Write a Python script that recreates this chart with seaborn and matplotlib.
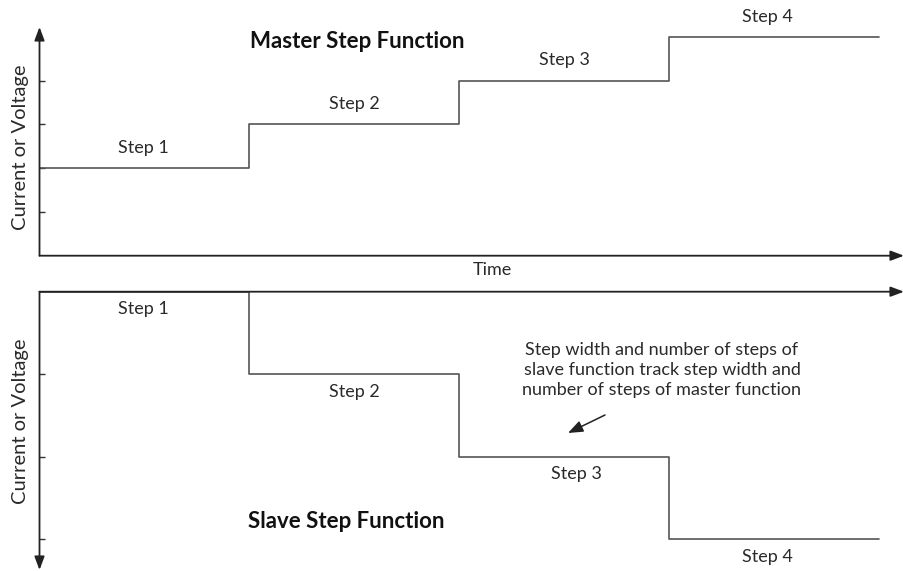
import matplotlib
matplotlib.use('Agg')
import matplotlib.pyplot as plt
from matplotlib.patches import FancyArrowPatch
import seaborn as sns

sns.set_style('white')
plt.rcParams['font.family'] = ['Lato', 'DejaVu Sans']

# Dados das funções degrau
step_edges = [0, 1, 2, 3, 4]
master_levels = [2, 3, 4, 5]
slave_levels = [0, -1, -2, -3]
step_labels = ['Step 1', 'Step 2', 'Step 3', 'Step 4']
master_ticks = [1, 2, 3, 4]
slave_ticks = [-1, -2, -3]

W, H = 904, 571
fig = plt.figure(figsize=(W / 100, H / 100), dpi=100)

line_c = '#555555'
axis_c = '#333333'
text_c = '#2a2a2a'

# eixo superior (mestre) e inferior (escravo), em pixels da figura
ax_top = fig.add_axes([39.5 / W, (H - 255.7) / H, (W - 39.5) / W, (255.7 - 27) / H])
ax_bot = fig.add_axes([39.5 / W, (H - 570) / H, (W - 39.5) / W, (570 - 291.7) / H])

ax_top.set_xlim(0, (W - 39.5) / 209.9)
ax_top.set_ylim(0, (255.7 - 27) / 43.8)
ax_bot.set_xlim(0, (W - 39.5) / 209.9)
ax_bot.set_ylim(-(570 - 291.7) / 82.5, 0)

for ax, levels, ticks in [(ax_top, master_levels, master_ticks), (ax_bot, slave_levels, slave_ticks)]:
    ax.patch.set_alpha(0)
    for s in ax.spines.values():
        s.set_visible(False)
    sns.lineplot(x=step_edges, y=levels + [levels[-1]], drawstyle='steps-post',
                 color=line_c, lw=1.2, ax=ax, estimator=None)
    ax.set_xticks([])
    ax.set_yticks(ticks)
    ax.tick_params(axis='y', direction='in', length=4, width=1, color=axis_c,
                   labelleft=False, left=True)
    ax.set_xlabel('')
    ax.set_ylabel('')

arrow = dict(arrowstyle='-|>,head_length=0.8,head_width=0.3', color='#222222',
             lw=1.3, shrinkA=0, shrinkB=0)

# setas dos eixos
ax_top.annotate('', xy=(1, 0), xytext=(0, 0), xycoords='axes fraction', arrowprops=arrow)
ax_top.annotate('', xy=(0, 1), xytext=(0, 0), xycoords='axes fraction', arrowprops=arrow)
ax_bot.annotate('', xy=(1, 1), xytext=(0, 1), xycoords='axes fraction', arrowprops=arrow)
ax_bot.annotate('', xy=(0, 0), xytext=(0, 1), xycoords='axes fraction', arrowprops=arrow)

# pequenos ajustes horizontais dos rótulos (pontos)
top_dx = [-1, 0, 0, -5]
bot_dx = [-1, 0, 9, -5]

# rótulos dos degraus
for i, lab in enumerate(step_labels):
    ax_top.annotate(lab, xy=(step_edges[i] + 0.5, master_levels[i]), xytext=(top_dx[i], 14.4),
                    textcoords='offset points', ha='center', va='center',
                    fontsize=13, color=text_c)
    ax_bot.annotate(lab, xy=(step_edges[i] + 0.5, slave_levels[i]), xytext=(bot_dx[i], -12.5),
                    textcoords='offset points', ha='center', va='center',
                    fontsize=13, color=text_c)

def px(x, y):
    return x / W, 1 - y / H

fig.text(*px(250, 41), 'Master Step Function', fontsize=16, fontweight='bold',
         ha='left', va='center', color='#111111')
fig.text(*px(248, 521), 'Slave Step Function', fontsize=16, fontweight='bold',
         ha='left', va='center', color='#111111')
fig.text(*px(492, 270), 'Time', fontsize=13, ha='center', va='center', color=text_c)
fig.text(*px(21, 147), 'Current or Voltage', fontsize=14.5, rotation=90,
         ha='center', va='center', color=text_c)
fig.text(*px(21, 421), 'Current or Voltage', fontsize=14.5, rotation=90,
         ha='center', va='center', color=text_c)
fig.text(*px(662, 370), 'Step width and number of steps of\nslave function track step width and\nnumber of steps of master function',
         fontsize=13, ha='center', va='center', color=text_c, linespacing=1.3)

fig.add_artist(FancyArrowPatch(
    posA=(605 / W, 1 - 415 / H), posB=(568 / W, 1 - 433 / H), transform=fig.transFigure,
    arrowstyle='-|>,head_length=9,head_width=3.5', color='#222222', lw=1.1,
    shrinkA=0, shrinkB=0))

fig.savefig('out.png', dpi=100)
